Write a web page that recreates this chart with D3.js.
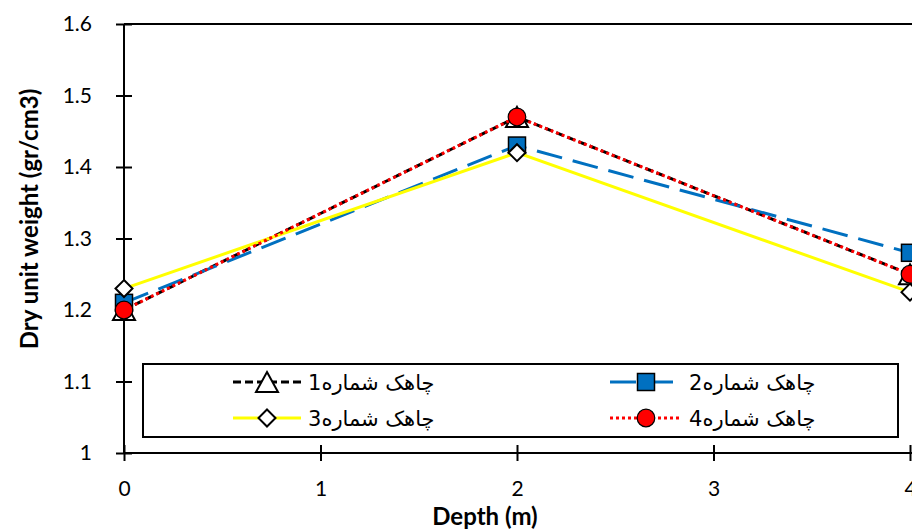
<!DOCTYPE html>
<html>
<head>
<meta charset="utf-8">
<script src="https://cdn.jsdelivr.net/npm/d3@7"></script>
<style>
  html, body { margin: 0; padding: 0; background: #fff; }
  svg { display: block; }
</style>
</head>
<body>
<svg id="chart" width="912" height="529"></svg>
<script>
// ---- data ----
const depths = [0, 2, 4];
const well1 = [1.20, 1.47, 1.25];
const well2 = [1.21, 1.43, 1.28];
const well3 = [1.23, 1.42, 1.225];
const well4 = [1.20, 1.47, 1.25];
const seriesNames = ["چاهک شماره1", "چاهک شماره2", "چاهک شماره3", "چاهک شماره4"];
const xTicks = [0, 1, 2, 3, 4];
const yTicks = [1, 1.1, 1.2, 1.3, 1.4, 1.5, 1.6];
const xTitle = "Depth (m)";
const yTitle = "Dry unit weight (gr/cm3)";

const series = [
  { name: seriesNames[0], values: well1, color: "#000000", width: 3, dash: "8,4", marker: "triangle", fill: "#ffffff", mstroke: "#000000" },
  { name: seriesNames[1], values: well2, color: "#0070C0", width: 3, dash: "26,11", marker: "square", fill: "#0070C0", mstroke: "#000000" },
  { name: seriesNames[2], values: well3, color: "#FFFF00", width: 3, dash: null, marker: "diamond", fill: "#ffffff", mstroke: "#000000" },
  { name: seriesNames[3], values: well4, color: "#FF0000", width: 3, dash: "3,3", marker: "circle", fill: "#FF0000", mstroke: "#000000" }
];

const svg = d3.select("#chart");
const x = d3.scaleLinear().domain([0, 4]).range([124, 910]);
const y = d3.scaleLinear().domain([1, 1.6]).range([453, 24]);

const tickFont = "Lato, 'Open Sans', sans-serif";

// top border line
svg.append("line").attr("x1", x(0)).attr("x2", 912).attr("y1", y(1.6)).attr("y2", y(1.6))
  .attr("stroke", "#000").attr("stroke-width", 2);

// axes
const xAxis = svg.append("g").attr("transform", `translate(0,${y(1)})`)
  .call(d3.axisBottom(x).tickValues(xTicks).tickFormat(d3.format("d")).tickSize(8).tickPadding(20));
xAxis.select(".domain").attr("stroke", "#000").attr("stroke-width", 2).attr("d", `M${x(0)},0H912`);
xAxis.selectAll(".tick line").attr("y1", -8).attr("y2", 8).attr("stroke", "#000").attr("stroke-width", 2);
xAxis.selectAll(".tick text").attr("font-family", tickFont).attr("font-size", 21).attr("fill", "#000");

const yAxis = svg.append("g").attr("transform", `translate(${x(0)},0)`)
  .call(d3.axisLeft(y).tickValues(yTicks).tickFormat(d => d === 1 ? "1" : d3.format(".1f")(d)).tickSize(8).tickPadding(24));
yAxis.select(".domain").attr("stroke", "#000").attr("stroke-width", 2).attr("d", `M0,${y(1)}V${y(1.6)}`);
yAxis.selectAll(".tick line").attr("x1", -8).attr("x2", 8).attr("stroke", "#000").attr("stroke-width", 2);
yAxis.selectAll(".tick text").attr("font-family", tickFont).attr("font-size", 21).attr("fill", "#000");

// axis titles
svg.append("text").attr("x", 485).attr("y", 525).attr("text-anchor", "middle")
  .attr("font-family", tickFont).attr("font-weight", "bold").attr("font-size", 24).text(xTitle);
svg.append("text").attr("transform", `translate(38,219) rotate(-90)`).attr("text-anchor", "middle")
  .attr("font-family", tickFont).attr("font-weight", "bold").attr("font-size", 24).text(yTitle);

// marker drawing
function drawMarker(g, type, cx, cy, fill, stroke) {
  if (type === "triangle") {
    g.append("path").attr("d", `M${cx},${cy - 10}L${cx + 11},${cy + 10}L${cx - 11},${cy + 10}Z`)
      .attr("fill", fill).attr("stroke", stroke).attr("stroke-width", 2);
  } else if (type === "square") {
    g.append("rect").attr("x", cx - 8.5).attr("y", cy - 8.5).attr("width", 17).attr("height", 17)
      .attr("fill", fill).attr("stroke", stroke).attr("stroke-width", 1.5);
  } else if (type === "diamond") {
    g.append("path").attr("d", `M${cx},${cy - 8.5}L${cx + 8.5},${cy}L${cx},${cy + 8.5}L${cx - 8.5},${cy}Z`)
      .attr("fill", fill).attr("stroke", stroke).attr("stroke-width", 2);
  } else {
    g.append("circle").attr("cx", cx).attr("cy", cy).attr("r", 8.8)
      .attr("fill", fill).attr("stroke", stroke).attr("stroke-width", 1.2);
  }
}

const line = d3.line().x(d => x(d[0])).y(d => y(d[1]));
series.forEach(s => {
  const pts = depths.map((d, i) => [d, s.values[i]]);
  const g = svg.append("g");
  g.append("path").attr("d", line(pts)).attr("fill", "none").attr("stroke", s.color)
    .attr("stroke-width", s.width).attr("stroke-dasharray", s.dash);
  pts.forEach(p => drawMarker(g, s.marker, x(p[0]), y(p[1]), s.fill, s.mstroke));
});

// legend
const lg = svg.append("g");
lg.append("rect").attr("x", 143).attr("y", 364).attr("width", 755).attr("height", 73)
  .attr("fill", "#fff").attr("stroke", "#000").attr("stroke-width", 2);
const legendPos = [
  { lx1: 233, lx2: 301, ty: 382 },
  { lx1: 610, lx2: 682, ty: 382 },
  { lx1: 233, lx2: 301, ty: 418 },
  { lx1: 610, lx2: 682, ty: 418 }
];
series.forEach((s, i) => {
  const p = legendPos[i];
  lg.append("line").attr("x1", p.lx1).attr("x2", p.lx2).attr("y1", p.ty).attr("y2", p.ty)
    .attr("stroke", s.color).attr("stroke-width", s.width).attr("stroke-dasharray", s.dash);
  drawMarker(lg, s.marker, (p.lx1 + p.lx2) / 2, p.ty, s.fill, s.mstroke);
  lg.append("text").attr("x", p.lx2 + 7).attr("y", p.ty + 8).attr("text-anchor", "start")
    .attr("font-family", "'DejaVu Sans', sans-serif").attr("font-size", 21).attr("fill", "#000")
    .attr("direction", "ltr").text(s.name);
});
</script>
</body>
</html>
